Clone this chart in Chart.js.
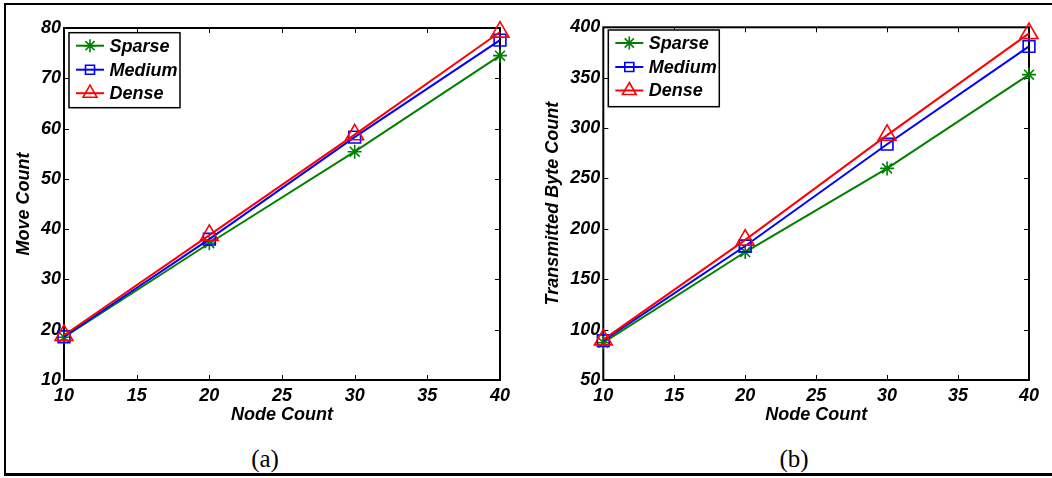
<!DOCTYPE html>
<html><head><meta charset="utf-8">
<script src="https://cdn.jsdelivr.net/npm/chart.js@4/dist/chart.umd.min.js"></script>
<style>
html,body{margin:0;padding:0;background:#fff;width:1052px;height:478px;overflow:hidden;position:relative}
#frame{position:absolute;left:4px;top:3px;width:1048px;height:473px;border-left:2px solid #000;border-top:2px solid #000;border-bottom:3px solid #000;box-sizing:border-box}
.cw{position:absolute;top:0;width:526px;height:440px}
.cap{position:absolute;top:443px;width:100px;text-align:center;font-family:"Liberation Serif","Times New Roman",serif;font-size:25px;line-height:32px;color:#000}
</style></head>
<body>
<div id="frame"></div>
<div class="cw" style="left:0"><canvas id="ca" width="526" height="440"></canvas></div>
<div class="cw" style="left:526px"><canvas id="cb" width="526" height="440"></canvas></div>
<div class="cap" style="left:215px">(a)</div>
<div class="cap" style="left:744px">(b)</div>
<script>
// ---- data ----
const nodeCount = [10, 20, 30, 40];
const seriesNames = ['Sparse', 'Medium', 'Dense'];
const moveSparse = [18.5, 37.2, 55.4, 74.5];
const moveMedium = [18.6, 38.0, 58.3, 77.6];
const moveDense  = [18.9, 38.8, 58.8, 79.2];
const byteSparse = [87, 177, 260, 353];
const byteMedium = [89, 183, 284, 381];
const byteDense  = [90, 189, 293, 394];
const xTicks = [10, 15, 20, 25, 30, 35, 40];
const moveTicks = [10, 20, 30, 40, 50, 60, 70, 80];
const byteTicks = [50, 100, 150, 200, 250, 300, 350, 400];

const GREEN = '#008000', BLUE = '#0000ff', RED = '#ff0000';
const FONT = {family: '"Liberation Sans", Arial, Helvetica, sans-serif', size: 18, style: 'italic', weight: 'bold'};
Chart.defaults.font = Object.assign({}, Chart.defaults.font, FONT);
Chart.defaults.color = '#000';

function drawMarker(ctx, style, x, y, r) {
  ctx.beginPath();
  if (style === 'star') {
    const d = r * Math.SQRT1_2;
    ctx.moveTo(x - r, y); ctx.lineTo(x + r, y);
    ctx.moveTo(x, y - r); ctx.lineTo(x, y + r);
    ctx.moveTo(x - d, y - d); ctx.lineTo(x + d, y + d);
    ctx.moveTo(x - d, y + d); ctx.lineTo(x + d, y - d);
  } else if (style === 'rect') {
    ctx.rect(x - r, y - r, 2 * r, 2 * r);
  } else {
    ctx.moveTo(x, y - r);
    ctx.lineTo(x + r * 0.866, y + r / 2);
    ctx.lineTo(x - r * 0.866, y + r / 2);
    ctx.closePath();
  }
  ctx.stroke();
}

const axesBox = {
  id: 'axesBox',
  beforeDatasetsDraw(chart) {
    const {ctx, chartArea: a, scales} = chart;
    ctx.save();
    ctx.strokeStyle = '#000';
    ctx.lineWidth = 1;
    const tl = 5;
    scales.x.ticks.forEach(t => {
      const px = Math.round(scales.x.getPixelForValue(t.value)) + 0.5;
      ctx.beginPath();
      ctx.moveTo(px, a.bottom); ctx.lineTo(px, a.bottom - tl);
      ctx.moveTo(px, a.top); ctx.lineTo(px, a.top + tl);
      ctx.stroke();
    });
    scales.y.ticks.forEach(t => {
      const py = Math.round(scales.y.getPixelForValue(t.value)) + 0.5;
      ctx.beginPath();
      ctx.moveTo(a.left, py); ctx.lineTo(a.left + tl, py);
      ctx.moveTo(a.right, py); ctx.lineTo(a.right - tl, py);
      ctx.stroke();
    });
    ctx.lineWidth = 2;
    ctx.strokeRect(a.left, a.top, a.right - a.left, a.bottom - a.top);
    ctx.restore();
  }
};

const boxLegend = {
  id: 'boxLegend',
  afterDatasetsDraw(chart, args, opts) {
    const {ctx} = chart;
    const {x, y, w, h} = opts;
    ctx.save();
    ctx.fillStyle = '#fff';
    ctx.fillRect(x, y, w, h);
    ctx.strokeStyle = '#000';
    ctx.lineWidth = 1.5;
    ctx.strokeRect(x, y, w, h);
    const rowsY = [13, 37, 60.5];
    const sizes = {star: 6.5, rect: 4.5, triangle: 8};
    chart.data.datasets.forEach((ds, i) => {
      const ry = y + rowsY[i];
      ctx.strokeStyle = ds.borderColor;
      ctx.lineWidth = 2;
      ctx.beginPath();
      ctx.moveTo(x + 7, ry); ctx.lineTo(x + 35, ry);
      ctx.stroke();
      ctx.lineWidth = 1.6;
      drawMarker(ctx, ds.pointStyle, x + 21, ry, sizes[ds.pointStyle]);
      ctx.fillStyle = '#000';
      ctx.font = 'italic bold 18px "Liberation Sans", Arial, sans-serif';
      ctx.textBaseline = 'middle';
      ctx.textAlign = 'left';
      ctx.fillText(ds.label, x + 40.5, ry + 1);
    });
    ctx.restore();
  }
};

function ds(label, vals, color, style, radius, order) {
  return {
    label, data: nodeCount.map((n, i) => ({x: n, y: vals[i]})),
    borderColor: color, backgroundColor: color, borderWidth: 2,
    pointStyle: style, pointRadius: radius, pointHoverRadius: radius,
    pointBorderColor: color, pointBackgroundColor: 'rgba(0,0,0,0)', pointBorderWidth: 1.6,
    tension: 0, fill: false, clip: false, order
  };
}

function makeChart(id, c) {
  return new Chart(document.getElementById(id), {
    type: 'line',
    data: {datasets: [
      ds(seriesNames[0], c.s, GREEN, 'star', 7, 2),
      ds(seriesNames[1], c.m, BLUE, 'rect', 8.3, 1),
      ds(seriesNames[2], c.d, RED, 'triangle', 10.3, 0)
    ]},
    options: {
      responsive: false, animation: false, devicePixelRatio: 1,
      layout: {padding: {left: 0, right: c.padRight, top: c.padTop, bottom: 0}},
      plugins: {legend: {display: false}, tooltip: {enabled: false}, boxLegend: c.legend},
      scales: {
        x: {
          type: 'linear', min: xTicks[0], max: xTicks[xTicks.length - 1],
          afterBuildTicks: s => { s.ticks = xTicks.map(v => ({value: v})); },
          ticks: {padding: 5, color: '#000', autoSkip: false, maxRotation: 0},
          grid: {display: false, drawTicks: false}, border: {display: false},
          title: {display: true, text: 'Node Count', color: '#000', padding: {top: 0, bottom: 14}},
          afterFit: s => { s.height = 60; }
        },
        y: {
          type: 'linear', min: c.yt[0], max: c.yt[c.yt.length - 1],
          afterBuildTicks: s => { s.ticks = c.yt.map(v => ({value: v})); },
          ticks: {padding: 3, color: '#000', autoSkip: false},
          grid: {display: false, drawTicks: false}, border: {display: false},
          title: {display: true, text: c.ytitle, color: '#000', padding: {top: c.ytPad, bottom: 0}},
          afterFit: s => { s.width = c.yWidth; }
        }
      }
    },
    plugins: [axesBox, boxLegend]
  });
}

makeChart('ca', {s: moveSparse, m: moveMedium, d: moveDense, yt: moveTicks, ytitle: 'Move Count',
  padRight: 26, padTop: 28, yWidth: 64, ytPad: 13.7, legend: {x: 69, y: 32.7, w: 111, h: 75}});
makeChart('cb', {s: byteSparse, m: byteMedium, d: byteDense, yt: byteTicks, ytitle: 'Transmitted Byte Count',
  padRight: 23, padTop: 27.3, yWidth: 77.3, ytPad: 16.5, legend: {x: 82.3, y: 30, w: 111, h: 76.7}});
</script>
</body></html>
